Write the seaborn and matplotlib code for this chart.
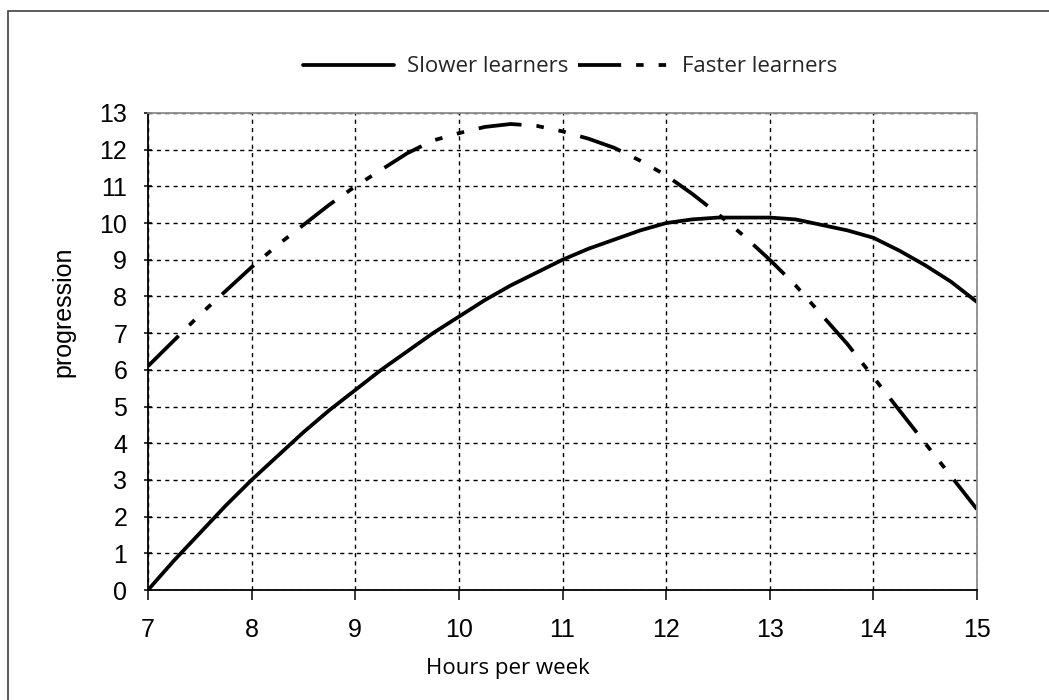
import matplotlib
matplotlib.use("Agg")
import matplotlib.pyplot as plt
import matplotlib.patches as mpatches
import seaborn as sns
import pandas as pd

# --- data ---
hours = [7, 7.25, 7.5, 7.75, 8, 8.25, 8.5, 8.75, 9, 9.25, 9.5, 9.75, 10, 10.25, 10.5, 10.75,
         11, 11.25, 11.5, 11.75, 12, 12.25, 12.5, 12.75, 13, 13.25, 13.5, 13.75, 14, 14.25,
         14.5, 14.75, 15]
slower = [0, 0.8, 1.55, 2.3, 3.0, 3.65, 4.3, 4.9, 5.45, 6.0, 6.5, 7.0, 7.45, 7.9, 8.3, 8.65,
          9.0, 9.3, 9.55, 9.8, 10.0, 10.1, 10.15, 10.15, 10.15, 10.1, 9.95, 9.8, 9.6, 9.25,
          8.85, 8.4, 7.85]
faster = [6.1, 6.8, 7.5, 8.15, 8.8, 9.4, 9.95, 10.5, 11.0, 11.45, 11.9, 12.25, 12.45, 12.62,
          12.7, 12.65, 12.5, 12.3, 12.05, 11.7, 11.3, 10.8, 10.25, 9.65, 9.0, 8.3, 7.5, 6.7,
          5.8, 4.9, 4.0, 3.1, 2.2]
series_names = ["Slower learners", "Faster learners"]
x_ticks = list(range(7, 16))
y_ticks = list(range(0, 14))

df = pd.concat([
    pd.DataFrame({"hours": hours, "progression": slower, "group": series_names[0]}),
    pd.DataFrame({"hours": hours, "progression": faster, "group": series_names[1]}),
])

sns.set_theme(style="white")
plt.rcParams["font.family"] = ["Liberation Sans", "DejaVu Sans"]

fig = plt.figure(figsize=(10.49, 7.0), dpi=100)
ax = fig.add_axes([148 / 1049, 1 - 590 / 700, (977 - 148) / 1049, (590 - 113) / 700])

sns.lineplot(data=df, x="hours", y="progression", hue="group", style="group",
             palette={series_names[0]: "black", series_names[1]: "black"},
             dashes={series_names[0]: "", series_names[1]: (11.5, 4, 2, 4, 2, 4)},
             linewidth=2.7, sort=False, ax=ax)

ax.set_xlim(7, 15)
ax.set_ylim(0, 13)
ax.set_xticks(x_ticks)
ax.set_yticks(y_ticks)
ax.tick_params(axis="x", direction="out", length=7, width=1.1, colors="black",
               labelsize=18, pad=13, bottom=True)
ax.tick_params(axis="y", direction="inout", length=6, width=1.1, colors="black",
               labelsize=18, pad=12, left=True)

ax.grid(True, color="black", linestyle=(0, (3, 3)), linewidth=1.0)
for side in ["left", "bottom"]:
    ax.spines[side].set_color("black")
    ax.spines[side].set_linewidth(1.3)
for side in ["top", "right"]:
    ax.spines[side].set_color("#8c8c8c")
    ax.spines[side].set_linewidth(1.3)

ax.set_ylabel("progression", fontsize=18, color="black")
ax.yaxis.set_label_coords((75 - 148) / (977 - 148), (590 - 312) / (590 - 113))
ax.set_xlabel("Hours per week", fontsize=16, color="black",
              family=["Open Sans", "DejaVu Sans"])
ax.xaxis.set_label_coords((508 - 148) / (977 - 148), -(658 - 590) / (590 - 113))

handles, labels = ax.get_legend_handles_labels()
ax.get_legend().remove()
fig.legend(handles, labels, loc="center", bbox_to_anchor=(570 / 1049, 1 - 67 / 700),
           ncol=2, frameon=False, handlelength=4.1, handletextpad=0.6,
           columnspacing=0.4, prop={"family": ["Open Sans", "DejaVu Sans"], "size": 16})

# outer frame around the chart
fig.patches.append(mpatches.Rectangle((8 / 1049, -0.1), 1.2, 1.1 - 11 / 700,
                                      transform=fig.transFigure, fill=False,
                                      edgecolor="#404040", linewidth=1.2))

fig.savefig("out.png", dpi=100)
